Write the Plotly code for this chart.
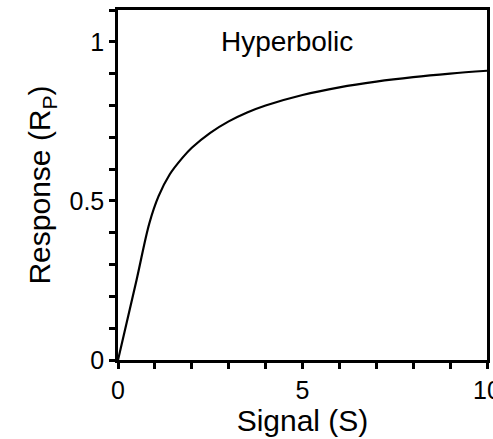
import plotly.graph_objects as go

signal = [0, 0.5, 0.85, 1.1, 1.4, 1.75, 2, 2.5, 3, 3.5, 4, 5, 6, 7, 8, 9, 10]
response = [0, 0.25, 0.43, 0.515, 0.583, 0.636, 0.667, 0.714, 0.75, 0.778, 0.8, 0.833, 0.857, 0.875, 0.889, 0.9, 0.909]
x_ticks = [0, 5, 10]
y_ticks = [0, 0.5, 1]
y_ticklabels = ["0", "0.5", "1"]

FONT = "Arial, Liberation Sans, Helvetica, sans-serif"

fig = go.Figure()
fig.add_trace(go.Scatter(x=signal, y=response, mode="lines", line_shape="spline",
                         line=dict(color="black", width=2.2, smoothing=1.0), showlegend=False))

fig.add_annotation(text="Hyperbolic", x=4.57, y=1.0, xref="x", yref="y",
                   showarrow=False, font=dict(family=FONT, size=28, color="black"))

axis_common = dict(showgrid=False, zeroline=False, showline=True, linecolor="black",
                   linewidth=2.5, ticks="outside", ticklen=6, tickwidth=2.5, tickcolor="black",
                   mirror=True, ticklabeloverflow="allow", automargin=False,
                   tickfont=dict(family=FONT, size=25, color="black"))

fig.update_xaxes(range=[0, 10], tickvals=x_ticks,
                 minor=dict(ticks="outside", ticklen=6, tickwidth=2.5, tickcolor="black", dtick=1),
                 title=dict(text="Signal (S)", font=dict(family=FONT, size=30, color="black"), standoff=0),
                 **axis_common)
fig.update_yaxes(range=[0, 1.1], tickvals=y_ticks, ticktext=y_ticklabels,
                 minor=dict(ticks="outside", ticklen=6, tickwidth=2.5, tickcolor="black", dtick=0.1, tick0=0),
                 title=dict(text="Response (R<sub>P</sub>)", font=dict(family=FONT, size=30, color="black"), standoff=10),
                 **axis_common)

fig.update_layout(width=493, height=439, margin=dict(l=118, r=6, t=10, b=79),
                  plot_bgcolor="white", paper_bgcolor="white")

fig.write_html("out.html")
